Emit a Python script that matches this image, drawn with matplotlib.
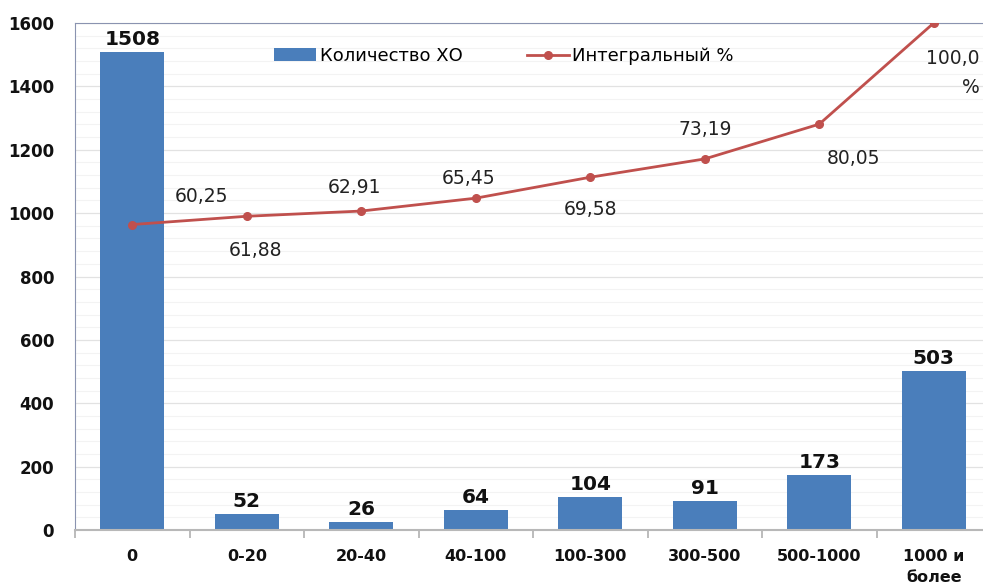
import numpy as np
import matplotlib
matplotlib.use("Agg")
from matplotlib import pyplot as plt
from matplotlib.ticker import MultipleLocator

categories = ["0", "0-20", "20-40", "40-100", "100-300", "300-500", "500-1000", "1000 и\nболее"]
counts = [1508, 52, 26, 64, 104, 91, 173, 503]
integral_pct = [60.25, 61.88, 62.91, 65.45, 69.58, 73.19, 80.05, 100.0]
pct_labels = ["60,25", "61,88", "62,91", "65,45", "69,58", "73,19", "80,05", "100,0\n%"]
# label offsets in points (dx, dy) for the line labels
pct_offsets = [(50, 20), (6, -25), (-5, 17), (-5, 14), (0, -23), (0, 21), (25, -25), (33, -36)]

bar_color = "#4A7EBB"
line_color = "#C0504D"

plt.rcParams["font.family"] = ["DejaVu Sans"]

fig = plt.figure(figsize=(9.83, 5.88), dpi=100)
ax = fig.add_axes([75 / 983, 1 - 530 / 588, (991 - 75) / 983, (530 - 23) / 588])

x = np.arange(len(categories))
bars = ax.bar(x, counts, width=0.56, color=bar_color, label="Количество ХО", zorder=2)
for xi, v in zip(x, counts):
    ax.annotate(str(v), xy=(xi, v), xytext=(0, 2), textcoords="offset points",
                ha="center", va="bottom", fontsize=14.5, fontweight="bold", color="#111111")

ax.set_xlim(-0.5, len(categories) - 0.5)
ax.set_ylim(0, 1600)
ax.yaxis.set_major_locator(MultipleLocator(200))
ax.yaxis.set_minor_locator(MultipleLocator(40))
ax.grid(True, which="major", axis="y", color="#e2e2e2", linewidth=0.9, zorder=0)
ax.grid(True, which="minor", axis="y", color="#f3f3f3", linewidth=0.8, zorder=0)
ax.set_axisbelow(True)

ax.set_xticks(x)
ax.set_xticklabels(categories, fontsize=11.5, fontweight="bold", color="#111111", linespacing=1.5)
ax.set_xticks(np.arange(len(categories) + 1) - 0.5, minor=True)
ax.tick_params(axis="x", which="major", length=0, pad=14)
ax.tick_params(axis="x", which="minor", length=6, direction="out", color="#b0b0b0", width=1.2)
ax.tick_params(axis="y", which="both", length=0, pad=15)
for lbl in ax.get_yticklabels():
    lbl.set_fontsize(12)
    lbl.set_fontweight("bold")
    lbl.set_color("#111111")

ax.spines["left"].set_color("#8a93b0")
ax.spines["top"].set_color("#8a93b0")
ax.spines["bottom"].set_color("#b8b8b8")
ax.spines["bottom"].set_linewidth(1.5)
ax.spines["right"].set_visible(False)

ax2 = ax.twinx()
ax2.set_ylim(0, 100)
ax2.axis("off")
line, = ax2.plot(x, integral_pct, color=line_color, linewidth=2, marker="o",
                 markersize=5.5, label="Интегральный %", zorder=3)
for i, (xi, v, txt, (dx, dy)) in enumerate(zip(x, integral_pct, pct_labels, pct_offsets)):
    last = i == len(x) - 1
    ax2.annotate(txt, xy=(xi, v), xytext=(dx, dy), textcoords="offset points",
                 ha="right" if last else "center", va="center", multialignment="right",
                 fontsize=13.5, color="#222222", linespacing=1.7, annotation_clip=False)

ax.legend([bars, line], ["Количество ХО", "Интегральный %"], loc="upper left",
          bbox_to_anchor=(0.2, 0.985), ncol=2, frameon=False, fontsize=13,
          columnspacing=3.6, handlelength=2.3, handletextpad=0.2)

plt.savefig("out.png", dpi=100)
plt.close(fig)
